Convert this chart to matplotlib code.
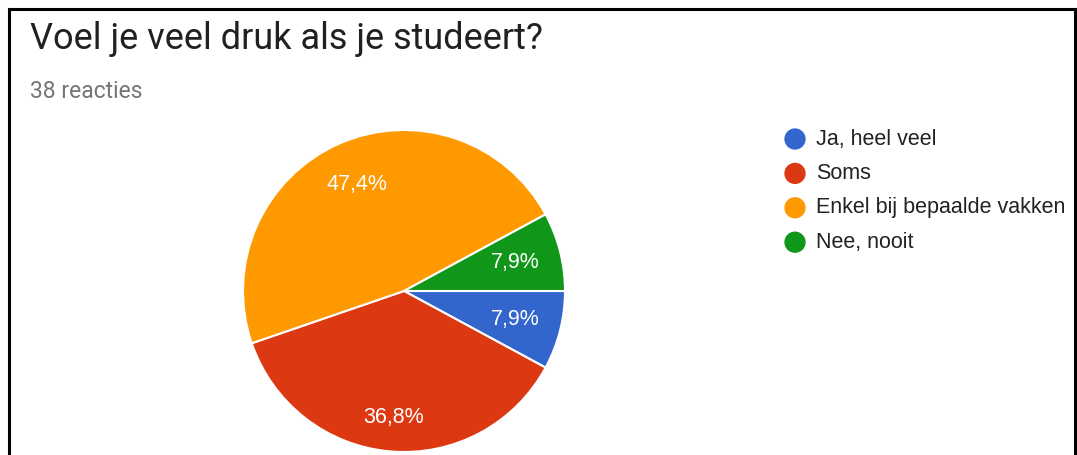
import numpy as np
import matplotlib.pyplot as plt
from matplotlib.lines import Line2D

# data
categories = ["Ja, heel veel", "Soms", "Enkel bij bepaalde vakken", "Nee, nooit"]
counts = [3, 14, 18, 3]
colors = ["#3366CC", "#DC3912", "#FF9900", "#109618"]
title = "Voel je veel druk als je studeert?"
subtitle = "38 reacties"

W, H = 1077, 455
fig = plt.figure(figsize=(W / 100, H / 100), dpi=100)
fig.patch.set_facecolor("white")

# overlay axes in pixel coordinates (y down)
ov = fig.add_axes([0, 0, 1, 1])
ov.set_xlim(0, W)
ov.set_ylim(H, 0)
ov.axis("off")

# screenshot frame
ov.add_line(Line2D([9, 9], [9, H], color="black", lw=2.2))
ov.add_line(Line2D([9, 1075], [9, 9], color="black", lw=2.2))
ov.add_line(Line2D([1075, 1075], [9, H], color="black", lw=2.2))

ov.text(30, 49, title, fontsize=26, family="Roboto", color="#212121",
        va="baseline", ha="left")
ov.text(30, 98, subtitle, fontsize=16.5, family="Roboto", color="#757575",
        va="baseline", ha="left")

# pie
cx, cy, r = 404, 291, 161
ax = fig.add_axes([(cx - r) / W, (H - cy - r) / H, 2 * r / W, 2 * r / H])
wedges, texts = ax.pie(
    counts, colors=colors, startangle=0, counterclock=False, radius=1.0,
    wedgeprops=dict(edgecolor="white", linewidth=1.5),
)
total = sum(counts)
label_dist = [0.71, 0.79, 0.72, 0.71]
for w, c, d in zip(wedges, counts, label_dist):
    ang = np.deg2rad((w.theta1 + w.theta2) / 2)
    ax.text(d * np.cos(ang), d * np.sin(ang),
            f"{100 * c / total:.1f}".replace(".", ",") + "%",
            ha="center", va="center", color="white", fontsize=15.5,
            family="Liberation Sans")
ax.set_xlim(-1, 1)
ax.set_ylim(-1, 1)
ax.set_aspect("equal")
ax.axis("off")

# legend
y0, dy = 139, 34.4
for i, (lab, col) in enumerate(zip(categories, colors)):
    y = y0 + i * dy
    ov.scatter([795], [y], s=235, color=col, edgecolors="none")
    ov.text(816, y, lab, fontsize=15.5, family="Liberation Sans",
            color="#222222", va="center", ha="left")

fig.savefig("out.png", dpi=100)
